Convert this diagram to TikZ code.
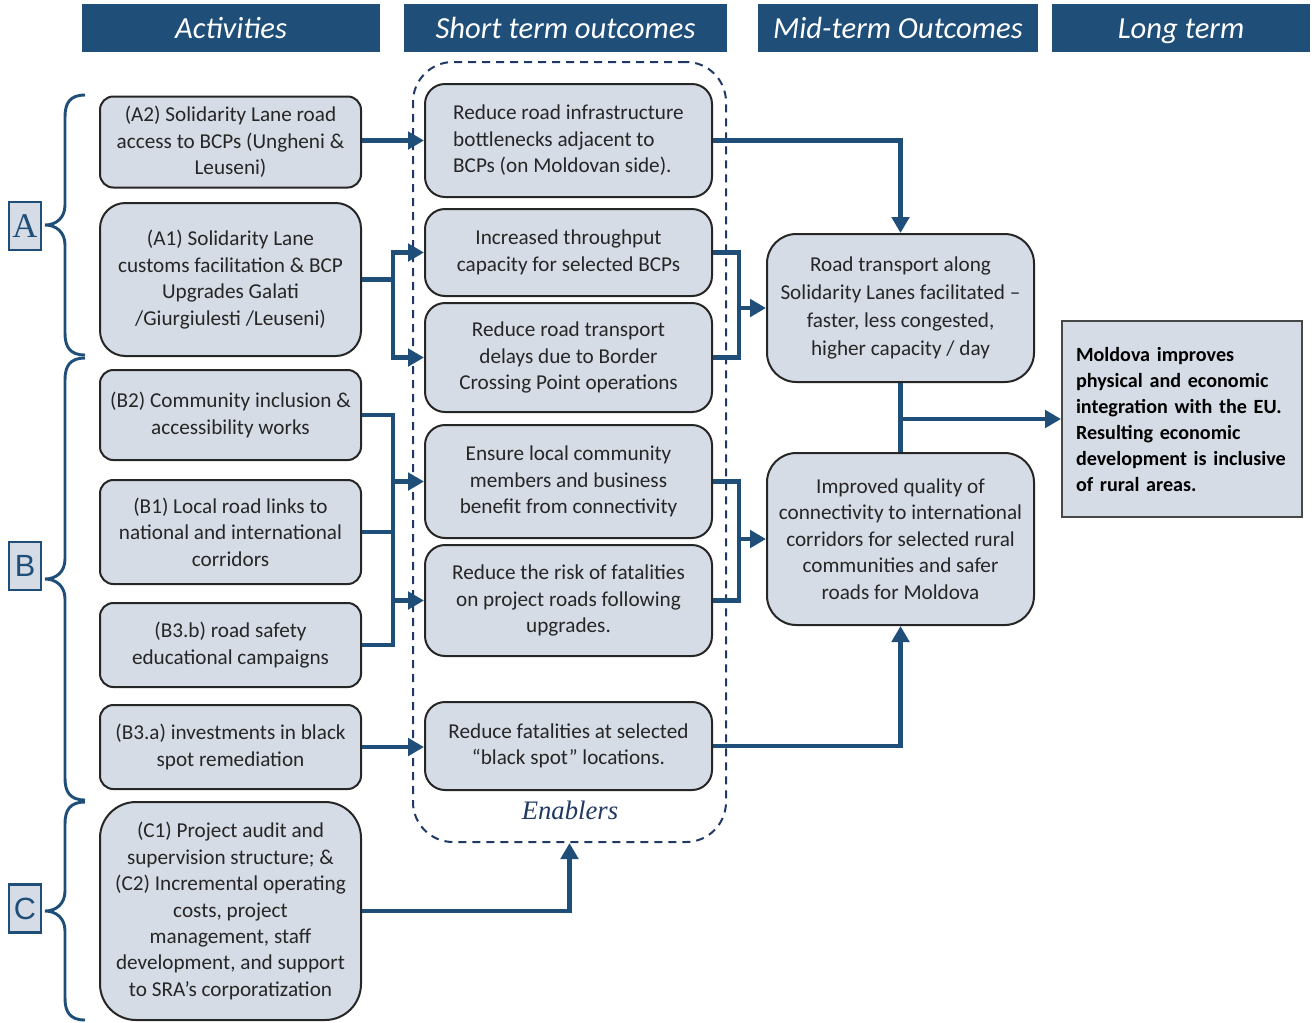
\documentclass[tikz,border=0pt]{standalone}
\usepackage{fontspec}
\setmainfont{Carlito}
\newfontfamily\lsans{Liberation Sans}
\newfontfamily\lserif{Liberation Serif}
\usetikzlibrary{arrows.meta}
\definecolor{navy}{HTML}{1F4E79}
\definecolor{dnavy}{HTML}{203864}
\definecolor{boxfill}{HTML}{D6DCE5}
\definecolor{boxline}{HTML}{262626}
\definecolor{txt}{HTML}{262626}
\tikzset{
  bx/.style={draw=boxline, fill=boxfill, line width=1.5pt, align=center, inner sep=0pt,
    text=txt, font=\fontsize{15.9}{19.8}\selectfont, minimum width=#1},
  actbox/.style={bx=195.75pt, rounded corners=10pt},
  stbox/.style={bx=215.25pt, rounded corners=15pt},
  midbox/.style={bx=200.25pt, rounded corners=22pt},
  hdr/.style={fill=navy, text=white, inner sep=0pt, minimum height=36pt,
    text height=16pt, text depth=1pt,
    font=\fontsize{23}{26}\selectfont\itshape},
  lbl/.style={draw=navy, fill=boxfill, line width=2pt, text=navy, inner sep=0pt,
    minimum width=24pt, minimum height=36pt},
  conn/.style={draw=navy, line width=3.4pt, line join=miter},
  arr/.style={conn, -{Triangle[length=12pt,width=13pt]}},
  brc/.style={draw=navy, line width=2.2pt},
}
\begin{document}
\begin{tikzpicture}[x=0.75pt,y=-0.75pt]
\useasboundingbox (0,0) rectangle (1312,1022);
% headers
\node[hdr, minimum width=223.5pt] (h1) at (231,28) {Activities};
\node[hdr, minimum width=242.25pt] (h2) at (565.5,28) {Short term outcomes};
\node[hdr, minimum width=210pt] (h3) at (898,28) {Mid-term Outcomes};
\node[hdr, minimum width=193.5pt] (h4) at (1181,28) {Long term};
% enablers dashed box
\node[draw=dnavy, line width=1.5pt, dash pattern=on 6pt off 4.5pt, rounded corners=30pt,
  minimum width=234.75pt, minimum height=585pt, inner sep=0pt] (en) at (569.5,452) {};
\node[text=dnavy, font=\lserif\itshape\fontsize{20}{24}\selectfont] (enl) at (570,810) {Enablers};
% activities
\node[actbox, minimum height=68.25pt] (a2) at (230.5,142) {(A2) Solidarity Lane road\\access to BCPs (Ungheni \&\\Leuseni)};
\node[actbox, rounded corners=19pt, minimum height=114.75pt] (a1) at (230.5,279.5) {(A1) Solidarity Lane\\customs facilitation \& BCP\\Upgrades Galati\\/Giurgiulesti /Leuseni)};
\node[actbox, minimum height=67.5pt] (b2) at (230.5,415) {(B2) Community inclusion \&\\accessibility works};
\node[actbox, minimum height=78pt] (b1) at (230.5,532) {(B1) Local road links to\\national and international\\corridors};
\node[actbox, minimum height=63pt] (b3b) at (230.5,645) {(B3.b) road safety\\educational campaigns};
\node[actbox, minimum height=63pt] (b3a) at (230.5,747) {(B3.a) investments in black\\spot remediation};
\node[actbox, rounded corners=27pt, minimum height=163.5pt] (c) at (230.5,911) {(C1) Project audit and\\supervision structure; \&\\(C2) Incremental operating\\costs, project\\management, staff\\development, and support\\to SRA’s corporatization};
% short term
\node[stbox, minimum height=84.75pt, align=left] (s1) at (568.5,140.5) {Reduce road infrastructure\\bottlenecks adjacent to\\BCPs (on Moldovan side).};
\node[stbox, minimum height=65.25pt] (s2) at (568.5,252.5) {Increased throughput\\capacity for selected BCPs};
\node[stbox, minimum height=81.75pt] (s3) at (568.5,357.5) {Reduce road transport\\delays due to Border\\Crossing Point operations};
\node[stbox, minimum height=84.75pt] (s4) at (568.5,481.5) {Ensure local community\\members and business\\benefit from connectivity};
\node[stbox, minimum height=83.25pt] (s5) at (568.5,600.5) {Reduce the risk of fatalities\\on project roads following\\upgrades.};
\node[stbox, minimum height=66pt] (s6) at (568.5,746) {Reduce fatalities at selected\\“black spot” locations.};
% mid term
\node[midbox, minimum height=111pt, font=\fontsize{15.9}{20.8}\selectfont] (m1) at (900.5,308) {Road transport along\\Solidarity Lanes facilitated –\\faster, less congested,\\higher capacity / day};
\node[midbox, minimum height=129pt] (m2) at (900.5,539) {Improved quality of\\connectivity to international\\corridors for selected rural\\communities and safer\\roads for Moldova};
% long term
\node[draw=boxline!85!white, fill=boxfill, line width=1.5pt, align=left, text=black,
  text width=159pt, inner xsep=10.5pt, minimum height=147pt,
  font=\fontsize{15.1}{19.5}\selectfont\bfseries] (lt) at (1182,419) {Moldova improves\\physical and economic\\integration with the EU.\\Resulting economic\\development is inclusive\\of rural areas.};
% braces
\foreach \ya/\yb in {95/355, 358/800, 802/1020}{
  \pgfmathsetmacro{\ym}{(\ya+\yb)/2}
  \draw[brc] (85,\ya) .. controls (70,\ya) and (65,{\ya+8}) .. (65,{\ya+22})
    -- (65,{\ym-20}) .. controls (65,{\ym-7}) and (56,\ym) .. (45,\ym)
    .. controls (56,\ym) and (65,{\ym+7}) .. (65,{\ym+20})
    -- (65,{\yb-22}) .. controls (65,{\yb-8}) and (70,\yb) .. (85,\yb);
}
\node[lbl, font=\lserif\fontsize{26}{28}\selectfont] (la) at (25,226) {A};
\node[lbl, font=\lsans\fontsize{23}{26}\selectfont] (lb) at (25,566) {B};
\node[lbl, font=\lsans\fontsize{23}{26}\selectfont] (lc) at (25,908.5) {C};
% connectors
\draw[arr] (a2.east |- s1.west) -- (s1.west);
\coordinate (ja) at (393,0);
\draw[conn] (a1.east) -- (ja |- a1.east);
\draw[arr] (ja |- s3.west) |- (s2.west);
\draw[arr] (ja |- s2.west) |- (s3.west);
\coordinate (jb) at (393,0);
\draw[conn] (b2.east) -| (jb |- b3b.east) -- (b3b.east);
\draw[conn] (b1.east) -- (jb |- b1.east);
\draw[arr] (jb |- s4.west) -- (s4.west);
\draw[arr] (jb |- s5.west) -- (s5.west);
\draw[arr] (b3a.east) -- (s6.west |- b3a.east);
\draw[arr] (c.east) -| (en.south);
\draw[arr] (s1.east) -| (m1.north);
\coordinate (jm) at (739,0);
\draw[conn] (s2.east) -| (jm |- s3.east) -- (s3.east);
\draw[arr] (jm |- m1.west) -- (m1.west);
\draw[conn] (s4.east) -| (jm |- s5.east) -- (s5.east);
\draw[arr] (jm |- m2.west) -- (m2.west);
\draw[arr] (s6.east) -| (m2.south);
\draw[conn] (m1.south) -- (m2.north);
\draw[arr] (m1.south |- lt.west) -- (lt.west);
\end{tikzpicture}
\end{document}
